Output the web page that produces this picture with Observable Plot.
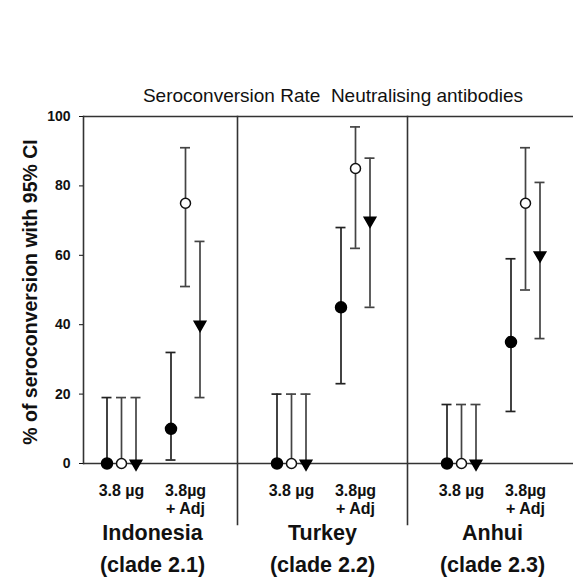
<!DOCTYPE html>
<html>
<head>
<meta charset="utf-8">
<script src="https://cdn.jsdelivr.net/npm/d3@7"></script>
<script src="https://cdn.jsdelivr.net/npm/@observablehq/plot@0.6"></script>
<style>
  html, body { margin: 0; padding: 0; background: #fff; overflow: hidden; }
  #chart { width: 573px; height: 578px; overflow: hidden; }
  #chart svg { display: block; max-width: none !important; height: 578px !important; }
</style>
</head>
<body>
<div id="chart"></div>
<script>
// ---- data ----
const title = "Seroconversion Rate  Neutralising antibodies";
const yLabel = "% of seroconversion with 95% CI";
const countries = ["Indonesia", "Turkey", "Anhui"];
const clades = ["(clade 2.1)", "(clade 2.2)", "(clade 2.3)"];
const doses = ["3.8 µg", "3.8µg\n+ Adj"];
const yTicks = [0, 20, 40, 60, 80, 100];
// order: Indonesia 3.8, Indonesia +Adj, Turkey 3.8, Turkey +Adj, Anhui 3.8, Anhui +Adj
const filledRate = [0, 10, 0, 45, 0, 35];
const filledLow  = [0, 1, 0, 23, 0, 15];
const filledHigh = [19, 32, 20, 68, 17, 59];
const openRate = [0, 75, 0, 85, 0, 75];
const openLow  = [0, 51, 0, 62, 0, 50];
const openHigh = [19, 91, 20, 97, 17, 91];
const triRate = [0, 40, 0, 70, 0, 60];
const triLow  = [0, 19, 0, 45, 0, 36];
const triHigh = [19, 64, 20, 88, 17, 81];

// ---- styling per series ----
const series = [
  {name: "filled", rate: filledRate, low: filledLow, high: filledHigh, dx: -14.5, symbol: "circle", fill: "#000", stroke: "#000", r: 5.5, rotate: 0, line: "#222"},
  {name: "open", rate: openRate, low: openLow, high: openHigh, dx: 0, symbol: "circle", fill: "#fff", stroke: "#111", r: 5, rotate: 0, line: "#444"},
  {name: "triangle", rate: triRate, low: triLow, high: triHigh, dx: 14.5, symbol: "triangle", fill: "#000", stroke: "#000", r: 4.3, rotate: 180, line: "#444"}
];

const rowsFor = s => countries.flatMap((c, ci) => doses.map((d, di) => ({
  country: c, dose: d,
  rate: s.rate[ci * doses.length + di],
  low: s.low[ci * doses.length + di],
  high: s.high[ci * doses.length + di]
})));

const lineColor = "#333";
const font = "'Liberation Sans', Arial, sans-serif";
const axisShift = 16; // y axis sits a little inside the first panel

const marks = [];
for (const s of series) {
  const rows = rowsFor(s);
  marks.push(Plot.ruleX(rows, {fx: "country", x: "dose", y1: "low", y2: "high", dx: s.dx, stroke: s.line, strokeWidth: 1.7}));
  marks.push(Plot.ruleY(rows, {fx: "country", x1: "dose", x2: "dose", y: "high", dx: s.dx, insetLeft: -5, insetRight: -5, stroke: s.line, strokeWidth: 1.7}));
  marks.push(Plot.ruleY(rows, {fx: "country", x1: "dose", x2: "dose", y: "low", dx: s.dx, insetLeft: -5, insetRight: -5, stroke: s.line, strokeWidth: 1.7}));
}

// frame lines: top (100) and baseline (0), y-axis line, separators
const frameRows = countries.flatMap(c => [yTicks[0], yTicks[yTicks.length - 1]].map(v => ({country: c, v})));
marks.push(Plot.ruleY(frameRows.filter(d => d.country === countries[0]), {fx: "country", y: "v", insetLeft: axisShift, stroke: lineColor, strokeWidth: 1.6}));
marks.push(Plot.ruleY(frameRows.filter(d => d.country !== countries[0]), {fx: "country", y: "v", stroke: lineColor, strokeWidth: 1.6}));
marks.push(Plot.frame({anchor: "left", facetAnchor: "left", dx: axisShift, stroke: lineColor, strokeWidth: 1.6}));
marks.push(Plot.frame({anchor: "right", insetBottom: -61, stroke: lineColor, strokeWidth: 1.6}));

for (const s of series) {
  marks.push(Plot.dot(rowsFor(s), {fx: "country", x: "dose", y: "rate", dx: s.dx, symbol: s.symbol, r: s.r, fill: s.fill, stroke: s.stroke, strokeWidth: 1.5, rotate: s.rotate}));
}

marks.push(Plot.axisY({ticks: yTicks, tickSize: 4, tickPadding: 9, dx: axisShift, fontSize: 14, fontWeight: "bold", label: null}));
marks.push(Plot.axisX({tickSize: 0, tickPadding: 19, fontSize: 16, fontWeight: "bold", lineHeight: 1.16, label: null}));
marks.push(Plot.axisFx({anchor: "bottom", tickSize: 0, tickPadding: 54, fontSize: 21.5, fontWeight: "bold", lineHeight: 1.49, label: null,
  tickFormat: d => d + "\n" + clades[countries.indexOf(d)]}));

const svg = Plot.plot({
  width: 577,
  height: 578,
  marginLeft: 67,
  marginRight: 0,
  marginTop: 116,
  marginBottom: 115,
  style: {fontFamily: font, fontSize: "14px", color: "#111", background: "#fff"},
  fx: {domain: countries, paddingInner: 0, paddingOuter: 0},
  x: {type: "point", domain: doses, padding: 0.8077, align: 0.508},
  y: {domain: [0, 100]},
  marks
});

d3.select(svg).append("text")
  .attr("x", 333).attr("y", 102)
  .attr("text-anchor", "middle")
  .attr("fill", "#111")
  .style("font-family", font)
  .style("font-size", "19px")
  .style("white-space", "pre")
  .attr("xml:space", "preserve")
  .text(title);

d3.select(svg).append("text")
  .attr("transform", "translate(37,292) rotate(-90)")
  .attr("text-anchor", "middle")
  .attr("fill", "#111")
  .style("font-family", font)
  .style("font-size", "19.5px")
  .style("font-weight", "bold")
  .text(yLabel);

document.getElementById("chart").appendChild(svg);
</script>
</body>
</html>
